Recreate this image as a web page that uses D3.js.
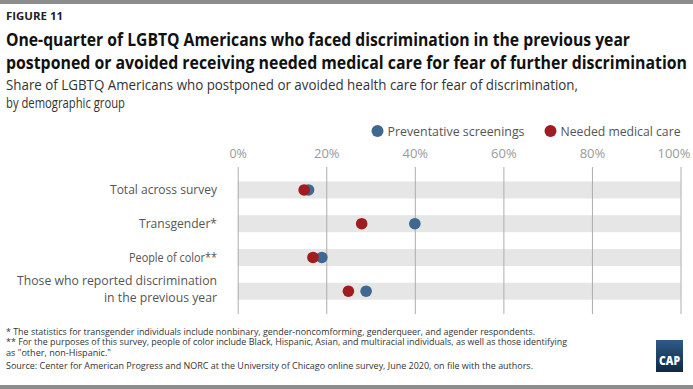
<!DOCTYPE html>
<html>
<head>
<meta charset="utf-8">
<script src="https://cdn.jsdelivr.net/npm/d3@7"></script>
<style>
  html, body { margin: 0; padding: 0; background: #fff; }
  svg { display: block; }
  text { font-family: "Open Sans", "Noto Sans", sans-serif; }
</style>
</head>
<body>
<svg id="chart" width="693" height="389"></svg>
<script>
// ---- data ----
const categories = [
  "Total across survey",
  "Transgender*",
  "People of color**",
  "Those who reported discrimination\nin the previous year"
];
const preventativeScreenings = [16, 40, 19, 29];
const neededMedicalCare = [15, 28, 17, 25];
const tickValues = [0, 20, 40, 60, 80, 100];
const seriesNames = ["Preventative screenings", "Needed medical care"];

const figureLabel = "FIGURE 11";
const titleLines = [
  "One-quarter of LGBTQ Americans who faced discrimination in the previous year",
  "postponed or avoided receiving needed medical care for fear of further discrimination"
];
const subtitleLines = [
  "Share of LGBTQ Americans who postponed or avoided health care for fear of discrimination,",
  "by demographic group"
];
const footnotes = [
  "* The statistics for transgender individuals include nonbinary, gender-noncomforming, genderqueer, and agender respondents.",
  "** For the purposes of this survey, people of color include Black, Hispanic, Asian, and multiracial individuals, as well as those identifying",
  "as \"other, non-Hispanic.\""
];
const sourceText = "Source: Center for American Progress and NORC at the University of Chicago online survey, June 2020, on file with the authors.";

// ---- styles ----
const BLUE = "#3e6892";
const RED = "#9f1c21";

const svg = d3.select("#chart");

function fit(sel, w) {
  sel.each(function () {
    const n = this.getComputedTextLength();
    if (Math.abs(n - w) > 0.5) {
      d3.select(this).attr("textLength", w).attr("lengthAdjust", "spacingAndGlyphs");
    }
  });
  return sel;
}

// top & bottom bars
svg.append("rect").attr("x", 0).attr("y", 0).attr("width", 693).attr("height", 4).attr("fill", "#8c8c8c");
svg.append("rect").attr("x", 0).attr("y", 385).attr("width", 693).attr("height", 4).attr("fill", "#8c8c8c");

// header
fit(svg.append("text").attr("x", 6).attr("y", 20).attr("font-size", 10).attr("font-weight", 700)
  .attr("fill", "#222").text(figureLabel), 57);

const titleW = [624, 681];
titleLines.forEach((t, i) => {
  fit(svg.append("text").attr("x", 6).attr("y", 46 + i * 22.5).attr("font-size", 17.5)
    .attr("font-weight", 700).attr("fill", "#111").text(t), titleW[i]);
});
const subW = [572, 119];
subtitleLines.forEach((t, i) => {
  fit(svg.append("text").attr("x", 6).attr("y", 90 + i * 18).attr("font-size", 14)
    .attr("fill", "#333").text(t), subW[i]);
});

// legend
const legX = [377.5, 550.5];
const legTextW = [137, 120];
seriesNames.forEach((name, i) => {
  svg.append("circle").attr("cx", legX[i]).attr("cy", 131).attr("r", 6)
    .attr("fill", i === 0 ? BLUE : RED);
  fit(svg.append("text").attr("x", legX[i] + 10).attr("y", 135.5).attr("font-size", 13)
    .attr("fill", "#555").text(name), legTextW[i]);
});

// scales
const x = d3.scaleLinear().domain([0, 100]).range([237.7, 680.5]);
const y = d3.scaleBand().domain(categories).range([173.1, 308.1]).padding(0);
const cy = c => y(c) + y.bandwidth() / 2;

// bands
svg.append("g").selectAll("rect").data(categories).join("rect")
  .attr("x", x(0)).attr("width", x(100) - x(0))
  .attr("y", d => cy(d) - 8.5).attr("height", 17)
  .attr("fill", "#e6e6e6");

// axis with grid lines
const axis = svg.append("g").attr("transform", "translate(0,167)")
  .call(d3.axisTop(x).tickValues(tickValues).tickFormat(d => d + "%")
    .tickSizeInner(-147).tickSizeOuter(0).tickPadding(9));
axis.select(".domain").remove();
axis.selectAll(".tick line").attr("stroke", "#adadad").attr("stroke-width", 1);
axis.selectAll(".tick text").attr("font-size", 13).attr("fill", "#9a9a9a")
  .attr("font-family", "\"Open Sans\", sans-serif");
axis.selectAll(".tick text").each(function (d) {
  const s = d3.select(this);
  const len = s.text().length;
  const w = len === 2 ? 17.5 : (len === 3 ? 26 : 33);
  fit(s, w);
  const overflow = x(d) + w / 2 - 690;
  if (overflow > 0) s.attr("dx", -overflow);
});

// category labels
const catW = [[107], [78], [88], [200, 113]];
categories.forEach((c, i) => {
  const lines = c.split("\n");
  const t = svg.append("text").attr("text-anchor", "end").attr("font-size", 13).attr("fill", "#555");
  lines.forEach((l, j) => {
    const ts = t.append("tspan").attr("x", 217)
      .attr("y", cy(c) + 4.5 + (j - (lines.length - 1) / 2) * 16.7 - (lines.length > 1 ? 2 : 0))
      .text(l);
    fit(ts, catW[i][j]);
  });
});

// dots
svg.append("g").selectAll("circle").data(categories).join("circle")
  .attr("cx", (d, i) => x(preventativeScreenings[i])).attr("cy", d => cy(d))
  .attr("r", 5.8).attr("fill", BLUE);
svg.append("g").selectAll("circle").data(categories).join("circle")
  .attr("cx", (d, i) => x(neededMedicalCare[i])).attr("cy", d => cy(d))
  .attr("r", 5.8).attr("fill", RED);

// footnotes
const footW = [529, 561, 105];
footnotes.forEach((f, i) => {
  fit(svg.append("text").attr("x", 6).attr("y", 334.5 + i * 10.5).attr("font-size", 9)
    .attr("fill", "#333").text(f), footW[i]);
});
fit(svg.append("text").attr("x", 6).attr("y", 369).attr("font-size", 9)
  .attr("fill", "#333").text(sourceText), 527);

// CAP logo
const defs = svg.append("defs");
const g = defs.append("linearGradient").attr("id", "capg").attr("x1", 0).attr("y1", 0).attr("x2", 0).attr("y2", 1);
g.append("stop").attr("offset", "0%").attr("stop-color", "#2f5a86");
g.append("stop").attr("offset", "100%").attr("stop-color", "#0e2944");
svg.append("rect").attr("x", 656).attr("y", 340).attr("width", 27).attr("height", 32).attr("fill", "url(#capg)");
fit(svg.append("text").attr("x", 659).attr("y", 365).attr("font-size", 13).attr("font-weight", 800)
  .attr("fill", "#fff").text("CAP"), 21);
</script>
</body>
</html>
